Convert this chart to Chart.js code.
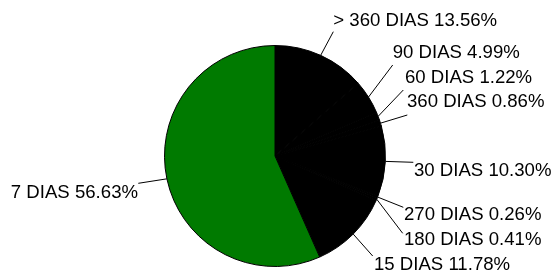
<!DOCTYPE html>
<html>
<head>
<meta charset="utf-8">
<script src="https://cdn.jsdelivr.net/npm/chart.js@4/dist/chart.umd.min.js"></script>
<style>
html,body{margin:0;padding:0;background:#fff;}
#wrap{width:553px;height:276px;position:relative;}
</style>
</head>
<body>
<div id="wrap"><canvas id="c" width="553" height="276"></canvas></div>
<script>
const categories = ['> 360 DIAS','90 DIAS','60 DIAS','360 DIAS','30 DIAS','270 DIAS','180 DIAS','15 DIAS','7 DIAS'];
const shares = [13.56, 4.99, 1.22, 0.86, 10.30, 0.26, 0.41, 11.78, 56.63];
const sliceColors = ['#000000','#000000','#000000','#000000','#000000','#000000','#000000','#000000','#007A00'];

// label layout: leader end point & text anchor, relative to pie centre
const labelLayout = [
  {ex: 58.3, ey:-124.3, tx: 58.3, ty:-130, align:'left'},
  {ex:117.7, ey: -91,   tx:117.7, ty:-98.5, align:'left'},
  {ex:128.3, ey: -66,   tx:130,   ty:-73.5, align:'left'},
  {ex:132.3, ey: -41,   tx:132,   ty:-49.5, align:'left'},
  {ex:138.3, ey:   6.3, tx:139,   ty: 20,   align:'left'},
  {ex:128.3, ey:  51.3, tx:129,   ty: 64,   align:'left'},
  {ex:127.7, ey:  77.3, tx:129,   ty: 88.5, align:'left'},
  {ex: 97.7, ey: 100,   tx: 99,   ty:113.5, align:'left'},
  {ex:-136.7,ey:  27.3, tx:-137,  ty: 42,   align:'right'}
];

const labelPlugin = {
  id:'pieLabels',
  afterDatasetsDraw(chart){
    const ctx = chart.ctx;
    const meta = chart.getDatasetMeta(0);
    ctx.save();
    ctx.font = '18.6px "Liberation Sans", Arial, sans-serif';
    ctx.fillStyle = '#000';
    ctx.strokeStyle = '#000';
    ctx.lineWidth = 1;
    meta.data.forEach((arc, i) => {
      const p = arc.getProps(['x','y','startAngle','endAngle','outerRadius'], true);
      const mid = (p.startAngle + p.endAngle)/2;
      const sx = p.x + Math.cos(mid)*p.outerRadius;
      const sy = p.y + Math.sin(mid)*p.outerRadius;
      const L = labelLayout[i];
      ctx.beginPath();
      ctx.moveTo(sx, sy);
      ctx.lineTo(p.x + L.ex, p.y + L.ey);
      ctx.stroke();
      ctx.textAlign = L.align;
      ctx.textBaseline = 'alphabetic';
      const txt = categories[i] + ' ' + shares[i].toFixed(2) + '%';
      ctx.fillText(txt, p.x + L.tx, p.y + L.ty);
    });
    ctx.restore();
  }
};

new Chart(document.getElementById('c'), {
  type:'pie',
  data:{
    labels: categories,
    datasets:[{
      data: shares,
      backgroundColor: sliceColors,
      borderColor:'#000000',
      borderWidth:1,
      hoverOffset:0
    }]
  },
  options:{
    responsive:false,
    animation:false,
    devicePixelRatio:1,
    layout:{padding:{left:0,right:3,top:45,bottom:9}},
    plugins:{legend:{display:false},tooltip:{enabled:false}}
  },
  plugins:[labelPlugin]
});
</script>
</body>
</html>
